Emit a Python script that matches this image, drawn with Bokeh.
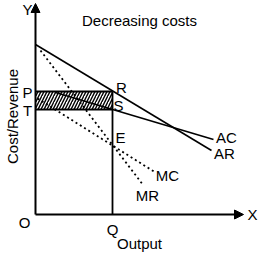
from bokeh.plotting import figure
from bokeh.models import Range1d, Arrow, NormalHead
from bokeh.core.properties import value
from bokeh.embed import file_html
from bokeh.resources import INLINE

# ---- data (chart units: origin O at (0, 0)) ----
q_output = 77          # Q
price_p = 123          # P (= R level)
cost_t = 105           # T (= S level)

ar_x = [0, 176]
ar_y = [170, 64]
ac_x = [20, 178]
ac_y = [122, 75]
mr_x = [5, 108]
mr_y = [164, 29]
mc_x = [2, 120]
mc_y = [116, 42]

x_axis_end = 208
y_axis_end = 211

point_labels = ["P", "T", "R", "S", "E", "Q", "O"]
curve_labels = ["AC", "AR", "MC", "MR"]

FONT = value("Liberation Sans")

p = figure(width=266, height=253, output_backend="svg", toolbar_location=None,
           x_range=Range1d(-35, 231), y_range=Range1d(-39, 214),
           min_border=0, outline_line_color=None)
p.axis.visible = False
p.grid.visible = False
p.background_fill_color = "white"
p.border_fill_color = "white"

# hatched profit rectangle PRST
p.quad(left=[0], right=[q_output], bottom=[cost_t], top=[price_p],
       fill_color="white", line_color=None,
       hatch_pattern="/", hatch_color="black", hatch_weight=1.4, hatch_scale=6)

# rectangle edges
p.segment(x0=[0, 0], y0=[price_p, cost_t], x1=[q_output, q_output], y1=[price_p, cost_t],
          line_color="black", line_width=1.8)
# Q vertical line
p.segment(x0=[q_output], y0=[0], x1=[q_output], y1=[price_p], line_color="black", line_width=1.8)

# curves
p.line(ar_x, ar_y, line_color="black", line_width=1.6)
p.line(ac_x, ac_y, line_color="black", line_width=1.6)
p.line(mr_x, mr_y, line_color="black", line_width=1.8, line_dash="2 3")
p.line(mc_x, mc_y, line_color="black", line_width=1.8, line_dash="2 3")

# axes with arrows
p.add_layout(Arrow(end=NormalHead(size=9, fill_color="black", line_color="black"),
                   x_start=0, y_start=0, x_end=x_axis_end, y_end=0,
                   line_color="black", line_width=2))
p.add_layout(Arrow(end=NormalHead(size=9, fill_color="black", line_color="black"),
                   x_start=0, y_start=0, x_end=0, y_end=y_axis_end,
                   line_color="black", line_width=2))

# point labels
lab_x = [-8, -8, 86, 83, 85, 77, -11]
lab_y = [price_p - 1, cost_t - 1, 127, 109, 77, -15, -8]
p.text(x=lab_x, y=lab_y, text=point_labels, text_font=FONT, text_font_size="15px",
       text_align="center", text_baseline="middle", text_color="black")

# curve labels
cl_x = [191, 189, 132, 112]
cl_y = [77, 61, 39, 19]
p.text(x=cl_x, y=cl_y, text=curve_labels, text_font=FONT, text_font_size="15px",
       text_align="center", text_baseline="middle", text_color="black")

# axis letters
p.text(x=[217, -8], y=[0, 205], text=["X", "Y"], text_font=FONT, text_font_size="15px",
       text_align="center", text_baseline="middle", text_color="black")

# axis titles
p.text(x=[104], y=[-29], text=["Output"], text_font=FONT, text_font_size="15px",
       text_align="center", text_baseline="middle", text_color="black")
p.text(x=[-23], y=[98], text=["Cost/Revenue"], text_font=FONT, text_font_size="15px",
       text_align="center", text_baseline="middle", text_color="black", angle=1.5708)

# title
p.text(x=[104], y=[194], text=["Decreasing costs"], text_font=FONT, text_font_size="15px",
       text_align="center", text_baseline="middle", text_color="black")

open("out.html", "w").write(file_html(p, INLINE))
